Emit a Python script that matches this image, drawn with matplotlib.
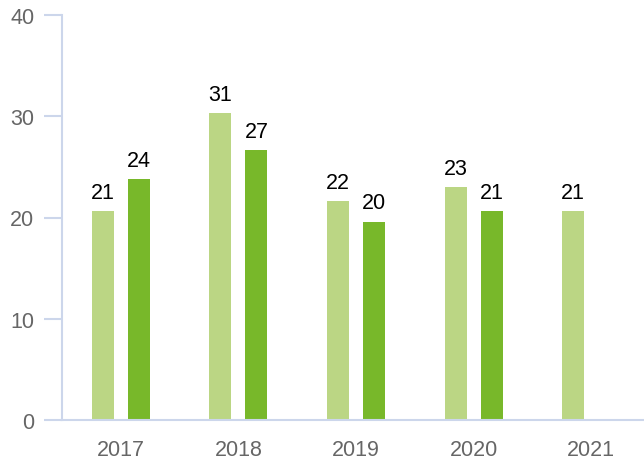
import matplotlib
matplotlib.use("Agg")
import matplotlib.pyplot as plt
import numpy as np

years = ["2017", "2018", "2019", "2020", "2021"]
light_values = [20.6, 30.3, 21.6, 23.0, 20.6]
light_labels = ["21", "31", "22", "23", "21"]
dark_values = [23.8, 26.7, 19.6, 20.6, None]
dark_labels = ["24", "27", "20", "21", ""]
y_ticks = [0, 10, 20, 30, 40]

LIGHT = "#bbd684"
DARK = "#78b82a"
AXIS = "#ccd6eb"

plt.rcParams['font.family'] = ['Liberation Sans', 'DejaVu Sans']

W, H = 644, 464
fig = plt.figure(figsize=(W / 100, H / 100), dpi=100)
left_px, right_px = 62, 644
bottom_px, top_px = 421, 16
ax = fig.add_axes([left_px / W, (H - bottom_px) / H, (right_px - left_px) / W, (bottom_px - top_px) / H])

cat_w = 117.6
x = np.arange(len(years))
bw = 22 / cat_w
off = 18 / cat_w
FS = 15.5

for i in range(len(years)):
    lv = light_values[i]
    ax.bar(x[i] - off, lv, width=bw, color=LIGHT, zorder=2)
    ax.annotate(light_labels[i], (x[i] - off, lv), xytext=(0, 9.4), textcoords='offset points',
                ha='center', va='baseline', fontsize=FS, color='black')
    dv = dark_values[i]
    if dv is not None:
        ax.bar(x[i] + off, dv, width=bw, color=DARK, zorder=2)
        ax.annotate(dark_labels[i], (x[i] + off, dv), xytext=(0, 9.4), textcoords='offset points',
                    ha='center', va='baseline', fontsize=FS, color='black')

ax.set_xlim(-0.5, -0.5 + (right_px - left_px) / cat_w)
ax.set_ylim(0, 40)
ax.set_yticks(y_ticks)
ax.set_yticklabels([str(t) for t in y_ticks])
ax.set_xticks(x)
ax.set_xticklabels(years)

for s in ['top', 'right']:
    ax.spines[s].set_visible(False)
for s in ['left', 'bottom']:
    ax.spines[s].set_color(AXIS)
    ax.spines[s].set_linewidth(1.5)

ax.tick_params(axis='y', length=13, width=1.5, color=AXIS, pad=7, labelsize=FS, labelcolor='#666666')
ax.tick_params(axis='x', length=0, pad=14, labelsize=FS, labelcolor='#666666')

fig.savefig("out.png", dpi=100)
